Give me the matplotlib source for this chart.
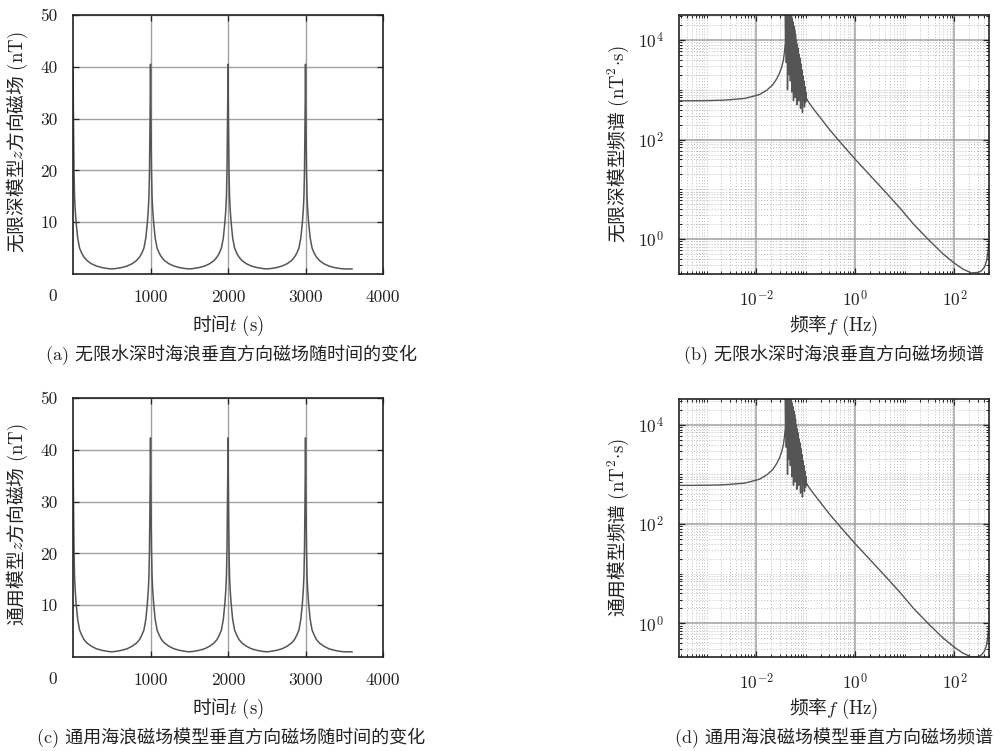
import numpy as np
import matplotlib
matplotlib.use("Agg")
import matplotlib.pyplot as plt
from matplotlib.ticker import LogLocator, NullFormatter, FuncFormatter, FixedLocator

plt.rcParams['font.family'] = ['cmr10', 'Noto Sans CJK SC', 'DejaVu Sans']
plt.rcParams['mathtext.fontset'] = 'cm'
plt.rcParams['axes.formatter.use_mathtext'] = True
plt.rcParams['axes.unicode_minus'] = True

# ---------------- data ----------------
t_s = [0, 4, 8, 13, 20, 28, 40, 60, 85, 110, 140, 180, 235, 300, 370, 440, 500,
       560, 630, 700, 765, 820, 860, 890, 915, 940, 960, 972, 980, 987, 992, 996,
       1000, 1004, 1008, 1013, 1020, 1028, 1040, 1060, 1085, 1110, 1140, 1180, 1235, 1300, 1370, 1440, 1500,
       1560, 1630, 1700, 1765, 1820, 1860, 1890, 1915, 1940, 1960, 1972, 1980, 1987, 1992, 1996,
       2000, 2004, 2008, 2013, 2020, 2028, 2040, 2060, 2085, 2110, 2140, 2180, 2235, 2300, 2370, 2440, 2500,
       2560, 2630, 2700, 2765, 2820, 2860, 2890, 2915, 2940, 2960, 2972, 2980, 2987, 2992, 2996,
       3000, 3004, 3008, 3013, 3020, 3028, 3040, 3060, 3085, 3110, 3140, 3180, 3235, 3300, 3370, 3440, 3500,
       3560, 3600]

bz_infinite = [40.0, 33, 27, 20, 15, 12.5, 10, 7, 5, 4.1, 3.3, 2.6, 2.0, 1.55, 1.25, 1.07, 0.98,
               1.07, 1.25, 1.55, 2.0, 2.6, 3.3, 4.1, 5, 7, 10, 12.5, 15, 20, 27, 33,
               40.5, 33, 27, 20, 15, 12.5, 10, 7, 5, 4.1, 3.3, 2.6, 2.0, 1.55, 1.25, 1.07, 0.98,
               1.07, 1.25, 1.55, 2.0, 2.6, 3.3, 4.1, 5, 7, 10, 12.5, 15, 20, 27, 33,
               40.5, 33, 27, 20, 15, 12.5, 10, 7, 5, 4.1, 3.3, 2.6, 2.0, 1.55, 1.25, 1.07, 0.98,
               1.07, 1.25, 1.55, 2.0, 2.6, 3.3, 4.1, 5, 7, 10, 12.5, 15, 20, 27, 33,
               40.5, 33, 27, 20, 15, 12.5, 10, 7, 5, 4.1, 3.3, 2.6, 2.0, 1.55, 1.25, 1.07, 0.98,
               0.97, 0.97]

bz_general = [41.8, 34.5, 28, 21, 15.7, 13, 10.4, 7.3, 5.2, 4.3, 3.4, 2.7, 2.1, 1.6, 1.3, 1.1, 1.0,
              1.1, 1.3, 1.6, 2.1, 2.7, 3.4, 4.3, 5.2, 7.3, 10.4, 13, 15.7, 21, 28, 34.5,
              42.3, 34.5, 28, 21, 15.7, 13, 10.4, 7.3, 5.2, 4.3, 3.4, 2.7, 2.1, 1.6, 1.3, 1.1, 1.0,
              1.1, 1.3, 1.6, 2.1, 2.7, 3.4, 4.3, 5.2, 7.3, 10.4, 13, 15.7, 21, 28, 34.5,
              42.3, 34.5, 28, 21, 15.7, 13, 10.4, 7.3, 5.2, 4.3, 3.4, 2.7, 2.1, 1.6, 1.3, 1.1, 1.0,
              1.1, 1.3, 1.6, 2.1, 2.7, 3.4, 4.3, 5.2, 7.3, 10.4, 13, 15.7, 21, 28, 34.5,
              42.3, 34.5, 28, 21, 15.7, 13, 10.4, 7.3, 5.2, 4.3, 3.4, 2.7, 2.1, 1.6, 1.3, 1.1, 1.0,
              1.0, 1.0]

# spectrum: low-frequency rise
spec_low_f = [2.78e-4, 5e-4, 1e-3, 2e-3, 3e-3, 6e-3, 0.0117, 0.0165, 0.0217, 0.0260, 0.0296,
              0.0330, 0.0356, 0.0375, 0.0390]
spec_low_S = [600, 601, 605, 615, 630, 670, 800, 980, 1260, 1650, 2150, 2900, 4000, 6000, 9000]

# spectrum: dense oscillation band
spec_osc_f = [0.0390, 0.0395, 0.0400, 0.0406, 0.0412, 0.0418, 0.0424, 0.0430, 0.0437, 0.0444,
              0.0451, 0.0458, 0.0466, 0.0474, 0.0482, 0.0490, 0.0499, 0.0508, 0.0517, 0.0526,
              0.0536, 0.0546, 0.0556, 0.0567, 0.0578, 0.0589, 0.0600, 0.0612, 0.0624, 0.0637,
              0.0650, 0.0663, 0.0677, 0.0691, 0.0706, 0.0721, 0.0737, 0.0753, 0.0770, 0.0787,
              0.0805, 0.0823, 0.0842, 0.0861, 0.0881, 0.0902, 0.0923, 0.0945, 0.0968, 0.0991,
              0.1015, 0.1040, 0.1065]
spec_osc_S = [40000, 9000, 40000, 3500, 40000, 8000, 40000, 1000, 40000, 6000,
              40000, 2000, 40000, 4500, 40000, 1500, 40000, 3000, 30000, 900,
              27000, 2500, 23000, 600, 19000, 1800, 16000, 700, 13000, 1500,
              10000, 500, 8200, 1200, 6800, 600, 5200, 1000, 4300, 420,
              3300, 800, 2500, 350, 1900, 600, 1500, 450, 1150, 550,
              900, 600, 640]

# spectrum: high-frequency decline
spec_high_f = [0.11, 0.13, 0.15, 0.2, 0.3, 0.5, 0.7, 1.0, 2.0, 4.0, 8.0, 15, 30, 60, 100,
               150, 220, 300, 350, 410, 450, 480, 500]
spec_high_S = [600, 470, 390, 270, 160, 88, 60, 40, 19, 9, 4.2, 2.0, 0.98, 0.5, 0.33,
               0.25, 0.21, 0.215, 0.23, 0.28, 0.38, 0.6, 0.95]

time_ticks = [1000, 2000, 3000, 4000]
field_ticks = [10, 20, 30, 40, 50]

ylabels_time = [r"无限深模型$z$方向磁场$\ \mathrm{(nT)}$", r"通用模型$z$方向磁场$\ \mathrm{(nT)}$"]
xlabel_time = r"时间$t\ \mathrm{(s)}$"
ylabels_spec = [r"无限深模型频谱$\ (\mathrm{nT}^2\!\cdot\!\mathrm{s})$",
                r"通用模型频谱$\ (\mathrm{nT}^2\!\cdot\!\mathrm{s})$"]
xlabel_spec = r"频率$f\ \mathrm{(Hz)}$"
captions = ["(a) 无限水深时海浪垂直方向磁场随时间的变化",
            "(b) 无限水深时海浪垂直方向磁场频谱",
            "(c) 通用海浪磁场模型垂直方向磁场随时间的变化",
            "(d) 通用海浪磁场模型垂直方向磁场频谱"]

# ---------------- style ----------------
LINE = '#555555'
GRID = '#a0a0a0'
MINOR = '#bdbdbd'
SPINE = '#222222'
TXT = '#222222'
FS_TICK = 12.5
FS_LAB = 13.5
FS_CAP = 13
CJK = 'Noto Sans CJK SC'

fig = plt.figure(figsize=(10, 7.51), dpi=100)

W, H = 1000.0, 751.0
def rect(l, r, t, b):
    return [l / W, 1 - b / H, (r - l) / W, (b - t) / H]

ax_a = fig.add_axes(rect(73, 383, 15, 274))
ax_c = fig.add_axes(rect(73, 383, 398, 657))
ax_b = fig.add_axes(rect(679, 989, 15, 274))
ax_d = fig.add_axes(rect(679, 989, 399, 657))

spec_f = np.concatenate([spec_low_f, spec_osc_f, spec_high_f])
spec_S = np.concatenate([spec_low_S, spec_osc_S, spec_high_S])

def style_common(ax):
    for s in ax.spines.values():
        s.set_color(SPINE)
        s.set_linewidth(1.2)
    ax.tick_params(which='both', direction='in', top=True, right=True,
                   colors=SPINE, labelcolor=TXT, labelsize=FS_TICK, pad=11)
    ax.tick_params(which='major', length=4, width=0.9)
    ax.tick_params(which='minor', length=2, width=0.7)
    ax.set_axisbelow(True)

for ax, bz, yl in [(ax_a, bz_infinite, ylabels_time[0]), (ax_c, bz_general, ylabels_time[1])]:
    ax.plot(t_s, bz, color=LINE, lw=1.1)
    ax.set_xlim(0, 4000)
    ax.set_ylim(0, 50)
    ax.set_xticks(time_ticks)
    ax.set_xticklabels([str(v) for v in time_ticks])
    ax.set_yticks(field_ticks)
    ax.set_yticklabels([str(v) for v in field_ticks])
    ax.grid(True, color=GRID, lw=1.0)
    style_common(ax)
    ax.set_ylabel(yl, fontsize=FS_LAB, color=TXT, family=CJK)
    ax.yaxis.set_label_coords(-0.14, 0.51)
    ax.set_xlabel(xlabel_time, fontsize=FS_LAB, color=TXT, family=CJK)
    ax.xaxis.set_label_coords(0.5, -0.155)

# stray "0" labels at the lower-left corners
fig.text(53 / W, 1 - 296 / H, "0", ha='center', va='center', fontsize=FS_TICK, color=TXT)
fig.text(53 / W, 1 - 679 / H, "0", ha='center', va='center', fontsize=FS_TICK, color=TXT)

def pow_fmt(v, pos):
    e = int(round(np.log10(v)))
    return r"$10^{%d}$" % e

for ax, yl, ylim in [(ax_b, ylabels_spec[0], (0.2, 3.16e4)), (ax_d, ylabels_spec[1], (0.21, 3.3e4))]:
    ax.plot(spec_f, spec_S, color=LINE, lw=1.0)
    ax.set_xscale('log')
    ax.set_yscale('log')
    ax.set_xlim(1 / 3600.0, 500)
    ax.set_ylim(*ylim)
    ax.xaxis.set_major_locator(FixedLocator([1e-2, 1e0, 1e2]))
    ax.yaxis.set_major_locator(FixedLocator([1e0, 1e2, 1e4]))
    ax.xaxis.set_minor_locator(LogLocator(base=10, subs=np.arange(1, 10), numticks=100))
    ax.yaxis.set_minor_locator(LogLocator(base=10, subs=np.arange(1, 10), numticks=100))
    ax.xaxis.set_major_formatter(FuncFormatter(pow_fmt))
    ax.yaxis.set_major_formatter(FuncFormatter(pow_fmt))
    ax.xaxis.set_minor_formatter(NullFormatter())
    ax.yaxis.set_minor_formatter(NullFormatter())
    ax.grid(True, which='minor', color=MINOR, lw=0.7, ls=(0, (1, 2)))
    ax.grid(True, which='major', color=GRID, lw=1.1, ls='-')
    style_common(ax)
    ax.set_ylabel(yl, fontsize=FS_LAB, color=TXT, family=CJK)
    ax.yaxis.set_label_coords(-0.155, 0.5)
    ax.set_xlabel(xlabel_spec, fontsize=FS_LAB, color=TXT, family=CJK)
    ax.xaxis.set_label_coords(0.5, -0.155)

cap_pos = [(231, 355), (834, 355), (231, 738), (834, 738)]
for (x, y), c in zip(cap_pos, captions):
    fig.text(x / W, 1 - y / H, c, ha='center', va='center', fontsize=FS_CAP, color=TXT)

fig.savefig("out.png", dpi=100, facecolor='white')
